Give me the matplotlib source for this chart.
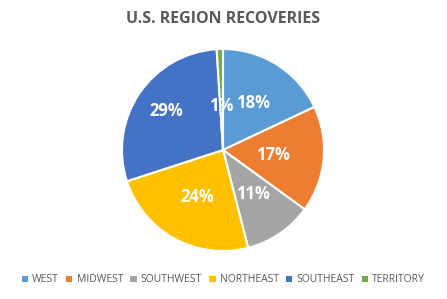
import numpy as np
import matplotlib.pyplot as plt
from matplotlib.patches import Patch

# Данные
regions = ['WEST', 'MIDWEST', 'SOUTHWEST', 'NORTHEAST', 'SOUTHEAST', 'TERRITORY']
shares = [18, 17, 11, 24, 29, 1]
colors = ['#5B9BD5', '#ED7D31', '#A5A5A5', '#FFC000', '#4472C4', '#70AD47']
label_dist = [0.55, 0.5, 0.53, 0.53, 0.68, 0.44]

plt.rcParams['font.family'] = ['Open Sans', 'DejaVu Sans']

fig = plt.figure(figsize=(4.47, 2.99), dpi=100)
ax = fig.add_axes([(223 - 101) / 447, (299 - 150 - 101) / 299, 202 / 447, 202 / 299])

wedges, _ = ax.pie(shares, colors=colors, startangle=90, counterclock=False,
                   wedgeprops=dict(edgecolor='white', linewidth=1.5))
ax.set_xlim(-1, 1)
ax.set_ylim(-1, 1)
ax.set_aspect('equal')

# Подписи процентов
for w, v, d in zip(wedges, shares, label_dist):
    mid = np.deg2rad((w.theta1 + w.theta2) / 2)
    ax.text(d * np.cos(mid), d * np.sin(mid), f'{v}%', ha='center', va='center',
            color='white', fontsize=12, fontweight='bold')

fig.text(0.5, 1 - 19 / 299, 'U.S. REGION RECOVERIES', ha='center', va='center',
         fontsize=11.5, fontweight='bold', color='#595959')

handles = [Patch(facecolor=c, edgecolor='none') for c in colors]
fig.legend(handles, regions, loc='center', bbox_to_anchor=(0.5, 1 - 280 / 299), ncol=6,
           frameon=False, fontsize=7.5, labelcolor='#595959', handlelength=0.6,
           handleheight=0.6, handletextpad=0.4, columnspacing=0.7)

fig.savefig('out.png', dpi=100)
